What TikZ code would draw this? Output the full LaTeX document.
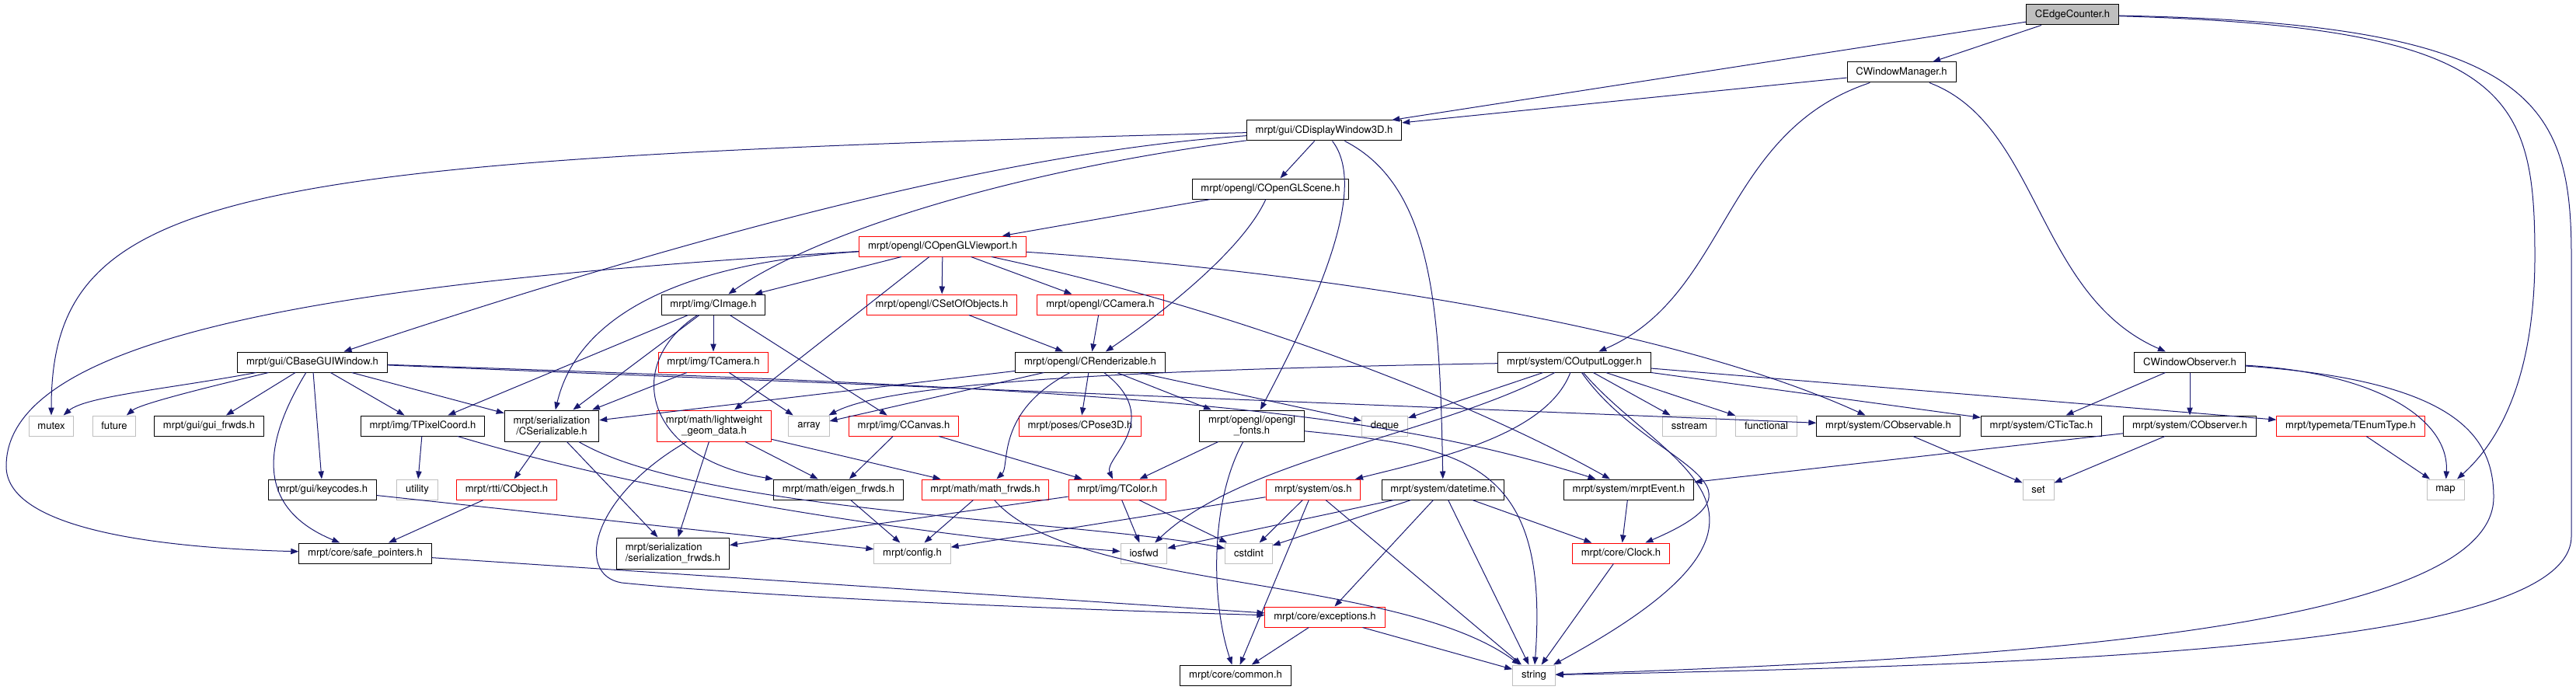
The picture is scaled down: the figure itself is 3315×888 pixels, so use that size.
\documentclass[tikz,border=0pt]{standalone}
\usepackage{fontspec}
\setmainfont{TeX Gyre Heros}
\usepackage{tikz}
\usetikzlibrary{arrows.meta}
\definecolor{edgeblue}{HTML}{191970}
\definecolor{grey75}{HTML}{BFBFBF}
\tikzstyle{hfile}=[rectangle,draw=black,fill=white,line width=0.75pt,inner xsep=8.5pt,inner ysep=0pt,minimum height=19.5pt,font=\fontsize{9.8}{10.5}\selectfont]
\tikzstyle{hred}=[hfile,draw=red]
\tikzstyle{hsys}=[hfile,draw=grey75]
\tikzstyle{hroot}=[hfile,fill=grey75]
\tikzstyle{htwo}=[minimum height=30pt,align=center]
\tikzstyle{dep}=[draw=edgeblue,line width=0.75pt,-{Triangle[length=7.5pt,width=5.5pt]}]

\begin{document}
\begin{tikzpicture}[x=0.75pt,y=-0.75pt]
  \useasboundingbox (0,0) rectangle (3315,888);

  \node[hroot] (ec) at (2667,19) {CEdgeCounter.h};
  \node[hfile] (wm) at (2447,93) {CWindowManager.h};
  \node[hfile] (dw) at (1704,168) {mrpt/gui/CDisplayWindow3D.h};
  \node[hfile] (scene) at (1635,243) {mrpt/opengl/COpenGLScene.h};
  \node[hred] (vp) at (1213,317) {mrpt/opengl/COpenGLViewport.h};
  \node[hfile] (img) at (918,392) {mrpt/img/CImage.h};
  \node[hred] (sobj) at (1212,392) {mrpt/opengl/CSetOfObjects.h};
  \node[hred] (cam) at (1416,392) {mrpt/opengl/CCamera.h};
  \node[hfile] (gui) at (402,466) {mrpt/gui/CBaseGUIWindow.h};
  \node[hred] (tcam) at (918,466) {mrpt/img/TCamera.h};
  \node[hfile] (rend) at (1403,466) {mrpt/opengl/CRenderizable.h};
  \node[hfile] (olog) at (2026,466) {mrpt/system/COutputLogger.h};
  \node[hfile] (wobs) at (2818,466) {CWindowObserver.h};

  \node[hsys] (mutex) at (66,548) {mutex};
  \node[hsys] (future) at (147,548) {future};
  \node[hfile] (guifw) at (269,548) {mrpt/gui/gui\_frwds.h};
  \node[hfile] (tpix) at (544,548) {mrpt/img/TPixelCoord.h};
  \node[hfile,htwo] (ser) at (710,548) {mrpt/serialization\\/CSerializable.h};
  \node[hred,htwo] (lgd) at (919,548) {mrpt/math/lightweight\\\_geom\_data.h};
  \node[hsys] (array) at (1041,548) {array};
  \node[hred] (canvas) at (1163,548) {mrpt/img/CCanvas.h};
  \node[hred] (pose) at (1390,548) {mrpt/poses/CPose3D.h};
  \node[hfile,htwo] (fonts) at (1611,548) {mrpt/opengl/opengl\\\_fonts.h};
  \node[hsys] (deque) at (1782,548) {deque};
  \node[hsys] (sstream) at (2174,548) {sstream};
  \node[hsys] (functional) at (2273,548) {functional};
  \node[hfile] (observable) at (2430,548) {mrpt/system/CObservable.h};
  \node[hfile] (tictac) at (2627,548) {mrpt/system/CTicTac.h};
  \node[hfile] (observer) at (2818,548) {mrpt/system/CObserver.h};
  \node[hred] (enumtype) at (3025,548) {mrpt/typemeta/TEnumType.h};

  \node[hfile] (keycodes) at (415,630) {mrpt/gui/keycodes.h};
  \node[hsys] (utility) at (537,630) {utility};
  \node[hred] (cobject) at (652,630) {mrpt/rtti/CObject.h};
  \node[hfile] (eigenfw) at (1079,630) {mrpt/math/eigen\_frwds.h};
  \node[hred] (mathfw) at (1268,630) {mrpt/math/math\_frwds.h};
  \node[hred] (tcolor) at (1438,630) {mrpt/img/TColor.h};
  \node[hred] (os) at (1690,630) {mrpt/system/os.h};
  \node[hfile] (datetime) at (1857,630) {mrpt/system/datetime.h};
  \node[hfile] (event) at (2096,630) {mrpt/system/mrptEvent.h};
  \node[hsys] (set) at (2623,630) {set};
  \node[hsys] (map) at (3147,630) {map};

  \node[hfile] (safeptr) at (470,712) {mrpt/core/safe\_pointers.h};
  \node[hfile,htwo,align=left] (serfw) at (866,712) {mrpt/serialization\\/serialization\_frwds.h};
  \node[hsys] (config) at (1174,712) {mrpt/config.h};
  \node[hsys] (iosfwd) at (1472,712) {iosfwd};
  \node[hsys] (cstdint) at (1607,712) {cstdint};
  \node[hred] (clock) at (2086,712) {mrpt/core/Clock.h};
  \node[hred] (except) at (1705,794) {mrpt/core/exceptions.h};
  \node[hfile] (common) at (1590,869) {mrpt/core/common.h};
  \node[hsys] (string) at (1974,869) {string};

  % CEdgeCounter.h and the window classes
  \draw[dep] (ec) to (wm);
  \draw[dep] (ec) to (dw);
  \draw[dep] (wm) to (dw);
  \draw[dep] (ec) .. controls (3230,35) and (3262,120) .. (3262,330) .. controls (3262,470) and (3225,560) .. (map);
  \draw[dep] (ec) .. controls (3260,30) and (3309,130) .. (3309,330) -- (3309,690) .. controls (3309,830) and (2700,855) .. (string);
  \draw[dep] (wm) .. controls (2215,170) and (2225,380) .. (olog);
  \draw[dep] (wm) .. controls (2625,160) and (2620,380) .. (wobs);
  \draw[dep] (dw) .. controls (300,205) and (66,240) .. (mutex);
  \draw[dep] (dw) .. controls (1300,195) and (900,300) .. (gui);
  \draw[dep] (dw) .. controls (1300,220) and (1050,300) .. (img);
  \draw[dep] (dw) to (scene);
  \draw[dep] (dw) .. controls (1760,240) and (1700,380) .. (fonts);
  \draw[dep] (dw) .. controls (1845,240) and (1853,400) .. (datetime);
  \draw[dep] (scene) to (vp);
  \draw[dep] (scene) .. controls (1600,320) and (1500,400) .. (rend);

  % opengl viewport
  \draw[dep] (vp) .. controls (500,360) and (8,420) .. (8,600) .. controls (8,680) and (200,705) .. (safeptr);
  \draw[dep] (vp) to (img);
  \draw[dep] (vp) .. controls (850,340) and (740,420) .. (ser);
  \draw[dep] (vp) to (lgd);
  \draw[dep] (vp) to (sobj);
  \draw[dep] (vp) to (cam);
  \draw[dep] (vp) .. controls (1600,400) and (1900,520) .. (event);
  \draw[dep] (vp) .. controls (1700,350) and (2150,420) .. (observable);
  \draw[dep] (sobj) to (rend);
  \draw[dep] (cam) to (rend);

  % image and gui
  \draw[dep] (img) to (tpix);
  \draw[dep] (img) to (ser);
  \draw[dep] (img) to (tcam);
  \draw[dep] (img) to (canvas);
  \draw[dep] (img) .. controls (800,470) and (830,590) .. (eigenfw);
  \draw[dep] (gui) .. controls (220,500) and (110,510) .. (mutex);
  \draw[dep] (gui) .. controls (260,500) and (180,520) .. (future);
  \draw[dep] (gui) to (guifw);
  \draw[dep] (gui) to (tpix);
  \draw[dep] (gui) to (ser);
  \draw[dep] (gui) to (keycodes);
  \draw[dep] (gui) .. controls (345,560) and (320,650) .. (safeptr);
  \draw[dep] (gui) to (observable);
  \draw[dep] (gui) .. controls (1400,500) and (1750,520) .. (event);
  \draw[dep] (tcam) to (ser);
  \draw[dep] (tcam) to (array);

  % renderizable and logger
  \draw[dep] (rend) to (ser);
  \draw[dep] (rend) to (array);
  \draw[dep] (rend) to (pose);
  \draw[dep] (rend) to (fonts);
  \draw[dep] (rend) to (deque);
  \draw[dep] (rend) .. controls (1280,530) and (1300,600) .. (mathfw);
  \draw[dep] (rend) .. controls (1500,540) and (1420,590) .. (tcolor);
  \draw[dep] (olog) .. controls (1500,475) and (1150,490) .. (array);
  \draw[dep] (olog) to (deque);
  \draw[dep] (olog) to (sstream);
  \draw[dep] (olog) to (functional);
  \draw[dep] (olog) to (tictac);
  \draw[dep] (olog) to (enumtype);
  \draw[dep] (olog) .. controls (1850,560) and (1600,590) .. (iosfwd);
  \draw[dep] (olog) .. controls (1990,560) and (1850,590) .. (os);
  \draw[dep] (olog) .. controls (2120,600) and (2300,620) .. (clock);
  \draw[dep] (olog) .. controls (2140,600) and (2360,660) .. (string);
  \draw[dep] (wobs) to (tictac);
  \draw[dep] (wobs) to (observer);
  \draw[dep] (wobs) .. controls (3060,480) and (3152,540) .. (map);
  \draw[dep] (wobs) .. controls (3160,490) and (3209,560) .. (3209,640) .. controls (3209,820) and (2500,850) .. (string);

  % lower rows
  \draw[dep] (tpix) to (utility);
  \draw[dep] (tpix) .. controls (850,640) and (1200,690) .. (iosfwd);
  \draw[dep] (ser) to (cobject);
  \draw[dep] (ser) to (serfw);
  \draw[dep] (ser) .. controls (900,660) and (1400,670) .. (cstdint);
  \draw[dep] (lgd) to (serfw);
  \draw[dep] (lgd) to (eigenfw);
  \draw[dep] (lgd) to (mathfw);
  \draw[dep] (lgd) .. controls (760,640) and (740,740) .. (800,750) .. controls (1000,770) and (1400,785) .. (except);
  \draw[dep] (canvas) to (eigenfw);
  \draw[dep] (canvas) to (tcolor);
  \draw[dep] (fonts) to (tcolor);
  \draw[dep] (fonts) .. controls (1555,650) and (1560,780) .. (common);
  \draw[dep] (fonts) .. controls (1880,575) and (1995,590) .. (string);
  \draw[dep] (observable) to (set);
  \draw[dep] (observer) to (set);
  \draw[dep] (observer) to (event);
  \draw[dep] (enumtype) to (map);
  \draw[dep] (keycodes) to (config);
  \draw[dep] (cobject) to (safeptr);
  \draw[dep] (eigenfw) to (config);
  \draw[dep] (mathfw) to (config);
  \draw[dep] (mathfw) .. controls (1380,760) and (1800,740) .. (string);
  \draw[dep] (tcolor) to (serfw);
  \draw[dep] (tcolor) to (iosfwd);
  \draw[dep] (tcolor) to (cstdint);
  \draw[dep] (os) to (config);
  \draw[dep] (os) to (cstdint);
  \draw[dep] (os) to (common);
  \draw[dep] (os) to (string);
  \draw[dep] (datetime) to (iosfwd);
  \draw[dep] (datetime) to (cstdint);
  \draw[dep] (datetime) to (except);
  \draw[dep] (datetime) to (string);
  \draw[dep] (datetime) to (clock);
  \draw[dep] (event) to (clock);
  \draw[dep] (clock) to (string);
  \draw[dep] (safeptr) to (except);
  \draw[dep] (except) to (common);
  \draw[dep] (except) to (string);

\end{tikzpicture}
\end{document}
